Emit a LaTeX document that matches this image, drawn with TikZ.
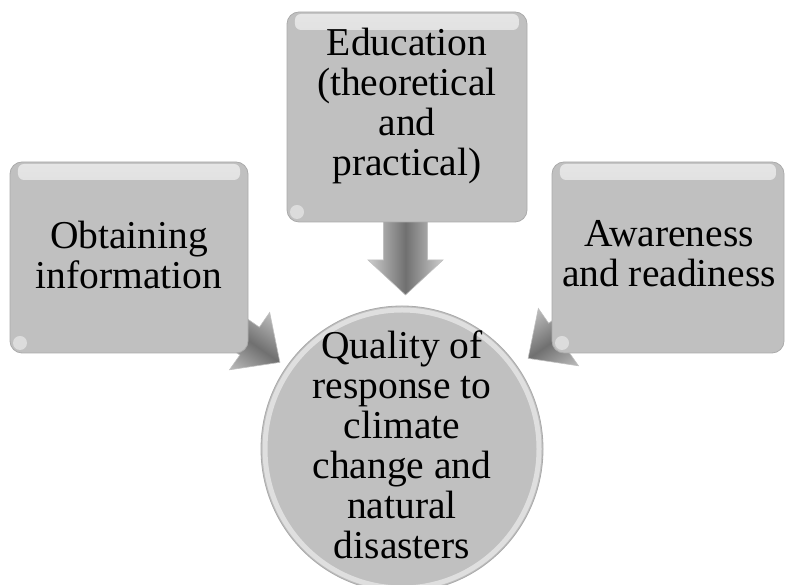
\documentclass[tikz,border=0pt]{standalone}
\usepackage{fontspec}
\setmainfont{Liberation Serif}
\usetikzlibrary{shapes.geometric,fadings,calc}
\definecolor{boxgray}{RGB}{192,192,192}
\definecolor{edgegray}{RGB}{170,170,170}
\definecolor{arrdark}{RGB}{112,112,112}
\definecolor{arrlight}{RGB}{205,205,205}
\newcommand{\bigtext}{\fontsize{39.5}{40}\selectfont}
\newcommand{\blockarr}[6]{%
  \begin{scope}[shift={(#1)}, rotate=#2]
    \shade[top color=arrlight, bottom color=arrlight, middle color=arrdark,
           shading angle=#2, draw=gray!50, line width=0.6pt]
      (0,#4) -- ({#3-#6},#4) -- ({#3-#6},#5) -- (#3,0) -- ({#3-#6},-#5)
      -- ({#3-#6},-#4) -- (0,-#4) -- cycle;
  \end{scope}}
\tikzset{
  gbox/.style={rounded corners=12pt, fill=boxgray, draw=edgegray, line width=0.8pt,
    inner sep=0pt, align=center, font=\bigtext,
    path picture={
      \fill[white, path fading=south, opacity=0.6, rounded corners=6pt]
        ([xshift=8pt,yshift=-2pt]path picture bounding box.north west) rectangle
        ([xshift=-8pt,yshift=-18pt]path picture bounding box.north east);
      \fill[white, opacity=0.45] ([xshift=10pt,yshift=10pt]path picture bounding box.south west) circle (7pt);
    }},
  qcirc/.style={ellipse, minimum width=282pt, minimum height=286pt, inner sep=0pt,
    fill=boxgray, draw=edgegray, line width=0.8pt,
    path picture={
      \draw[white, line width=5pt, opacity=0.5] (path picture bounding box.center) ellipse (137pt and 139pt);
    }},
  qtext/.style={align=center, font=\bigtext, inner sep=0pt}
}
\begin{document}
\begin{tikzpicture}[x=1pt, y=1pt]
\useasboundingbox (0,0) rectangle (786,585);
\clip (0,0) rectangle (786,585);
% block arrows (drawn first, partly hidden by the boxes)
\coordinate (aT) at (405.5,380);
\coordinate (aL) at (198,280);
\coordinate (aR) at (610,284);
\blockarr{aT}{-90}{90}{22}{37.5}{35}
\blockarr{aL}{-35}{100}{17}{35}{37}
\blockarr{aR}{-145}{100}{17}{35}{37}
% boxes
\node[gbox, minimum width=238pt, minimum height=191pt] (L) at (129,327.5) {};
\node[qtext] (Lt) at (129,330.5) {Obtaining\\information};
\node[gbox, minimum width=240pt, minimum height=210pt] (T) at (407,468) {};
\node[qtext] (Tt) at (407,479) {Education\\(theoretical\\and\\practical)};
\node[gbox, minimum width=232pt, minimum height=191pt] (R) at (668,327.5) {};
\node[qtext] (Rt) at (669,331) {Awareness\\and readiness};
% circle
\node[qcirc] (Q) at (402,136) {};
\node[qtext] (Qt) at (402,140.5) {Quality of\\response to\\climate\\change and\\natural\\disasters};
\end{tikzpicture}
\end{document}
